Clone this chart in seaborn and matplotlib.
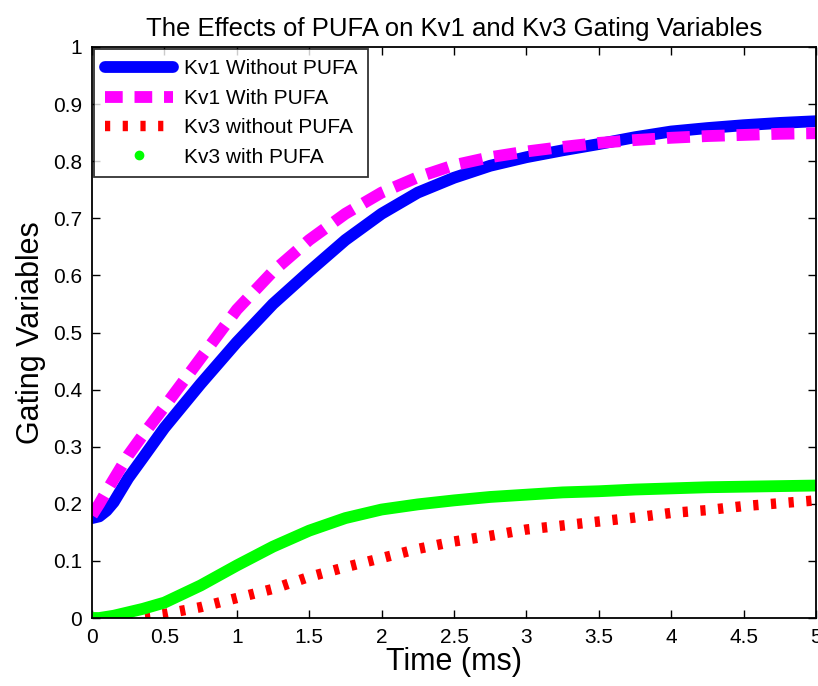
import matplotlib
matplotlib.use("Agg")
import matplotlib.pyplot as plt
from matplotlib.lines import Line2D
import seaborn as sns

# time points (ms)
time_ms = [0, 0.05, 0.1, 0.15, 0.25, 0.35, 0.5, 0.75, 1.0, 1.25, 1.5, 1.75, 2.0,
           2.25, 2.5, 2.75, 3.0, 3.25, 3.5, 3.75, 4.0, 4.25, 4.5, 4.75, 5.0]

kv1_without = [0.175, 0.178, 0.188, 0.203, 0.245, 0.28, 0.333, 0.41, 0.483, 0.55,
               0.607, 0.662, 0.708, 0.745, 0.771, 0.792, 0.807, 0.819, 0.830,
               0.842, 0.852, 0.858, 0.863, 0.867, 0.870]
kv1_with = [0.18, 0.2, 0.222, 0.243, 0.285, 0.32, 0.37, 0.455, 0.54, 0.607, 0.662,
            0.708, 0.745, 0.772, 0.793, 0.807, 0.817, 0.825, 0.832, 0.837, 0.841,
            0.844, 0.846, 0.848, 0.849]
kv3_without = [0.0, 0.0, 0.0, 0.0, 0.0, 0.002, 0.007, 0.019, 0.035, 0.051, 0.072,
               0.089, 0.105, 0.121, 0.134, 0.144, 0.155, 0.162, 0.169, 0.176,
               0.184, 0.189, 0.196, 0.201, 0.206]
kv3_with = [0.0, 0.0, 0.002, 0.004, 0.01, 0.016, 0.027, 0.057, 0.092, 0.125, 0.153,
            0.175, 0.19, 0.199, 0.206, 0.212, 0.216, 0.22, 0.222, 0.225, 0.227,
            0.229, 0.23, 0.231, 0.232]

labels = ['Kv1 Without PUFA', 'Kv1 With PUFA', 'Kv3 without PUFA', 'Kv3 with PUFA']

sns.set_style("white")
plt.rcParams['font.family'] = ['Liberation Sans', 'DejaVu Sans']

fig = plt.figure(figsize=(8.18, 6.86), dpi=100)
ax = fig.add_axes([0.1125, 0.0991, 0.885, 0.8324])

dash = (0, (1.95, 1.0))
dots = (0, (0.5, 1.2))

sns.lineplot(x=time_ms, y=kv1_without, color='#0000ff', lw=8.5, ax=ax)
sns.lineplot(x=time_ms, y=kv1_with, color='#ff00ff', lw=8.5, ax=ax, linestyle=dash)
sns.lineplot(x=time_ms, y=kv3_without, color='#ff0000', lw=7.5, ax=ax, linestyle=dots)
sns.lineplot(x=time_ms, y=kv3_with, color='#00ff00', lw=8.5, ax=ax,
             solid_capstyle='round')

ax.set_xlim(0, 5)
ax.set_ylim(0, 1)
ax.set_xticks([0, 0.5, 1, 1.5, 2, 2.5, 3, 3.5, 4, 4.5, 5])
ax.set_xticklabels(['0', '0.5', '1', '1.5', '2', '2.5', '3', '3.5', '4', '4.5', '5'])
ax.set_yticks([i / 10 for i in range(11)])
ax.set_yticklabels(['0', '0.1', '0.2', '0.3', '0.4', '0.5', '0.6', '0.7', '0.8', '0.9', '1'])
ax.tick_params(direction='in', length=6, width=1, color='black', labelsize=15,
               labelcolor='black', top=True, right=True, bottom=True, left=True, pad=7)
for s in ax.spines.values():
    s.set_color('black')
    s.set_linewidth(1.3)

ax.set_xlabel('Time (ms)', fontsize=22, labelpad=0, color='black')
ax.set_ylabel('Gating Variables', fontsize=22, labelpad=5, color='black')
ax.set_title('The Effects of PUFA on Kv1 and Kv3 Gating Variables', fontsize=18.5,
             pad=8, color='black')

handles = [
    Line2D([], [], color='#0000ff', lw=8.5),
    Line2D([], [], color='#ff00ff', lw=8.5, linestyle=(0, (1.5, 1.0))),
    Line2D([], [], color='#ff0000', lw=7.5, linestyle=dots),
    Line2D([], [], color='#00ff00', marker='o', markersize=6, linestyle='none'),
]
leg = ax.legend(handles, labels, loc='upper left', fontsize=15, frameon=True,
                fancybox=False, borderaxespad=0.1, handlelength=3.3,
                handletextpad=0.5, labelspacing=0.5, borderpad=0.5,
                edgecolor='black')
leg.get_frame().set_linewidth(1.3)
for t in leg.get_texts():
    t.set_color('black')

fig.savefig('out.png', dpi=100)
